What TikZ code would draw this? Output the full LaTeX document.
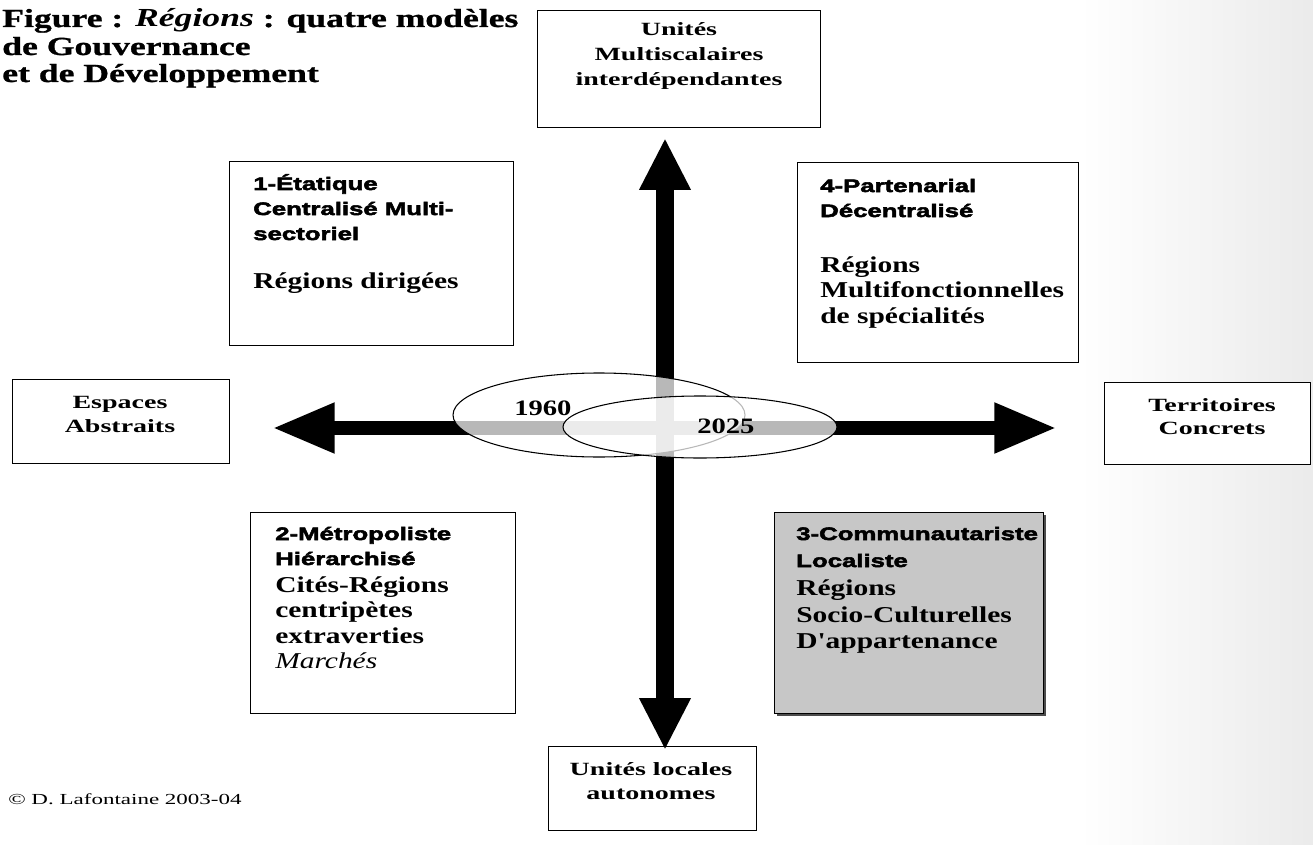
\documentclass[tikz,border=0pt]{standalone}
\usepackage{fontspec}
\setmainfont{Liberation Serif}
\newfontfamily\bodyf{Liberation Serif}[FakeStretch=1.3]
\newfontfamily\heavyf{Liberation Sans}[FakeStretch=1.43,BoldFeatures={FakeBold=3}]
\newfontfamily\titlef{Liberation Serif}[FakeStretch=1.37,BoldFeatures={FakeBold=1}]
\newfontfamily\labelf{Liberation Serif}[FakeStretch=1.5]
\newfontfamily\copyf{Liberation Serif}[FakeStretch=1.5]
\usetikzlibrary{arrows.meta,shapes.geometric,shadows}
\begin{document}
\begin{tikzpicture}[x=0.75pt,y=-0.75pt,
  box/.style={draw, line width=1pt, fill=white, anchor=north west, inner sep=0pt},
  graybox/.style={box, fill=black!22, drop shadow={shadow xshift=1.5pt, shadow yshift=-1.5pt, fill=black!70, opacity=1}},
  heavy/.style={anchor=base west, inner sep=0pt, font=\heavyf\bfseries\fontsize{13.5}{16}\selectfont},
  body/.style={anchor=base west, inner sep=0pt, font=\bodyf\bfseries\fontsize{17}{20}\selectfont},
  bodyit/.style={anchor=base west, inner sep=0pt, font=\bodyf\itshape\fontsize{17}{20}\selectfont},
  ttl/.style={anchor=base west, inner sep=0pt, font=\titlef\bfseries\fontsize{19.5}{23}\selectfont},
  lbl/.style={anchor=base, inner sep=0pt, font=\labelf\bfseries\fontsize{14}{16}\selectfont},
  year/.style={anchor=base west, inner sep=0pt, font=\bodyf\bfseries\fontsize{16.5}{19}\selectfont},
  oval/.style={ellipse, draw, line width=0.8pt, fill=white, fill opacity=0.72, draw opacity=1, inner sep=0pt},
  varrow/.style={line width=13.5pt, {Triangle[length=39pt,width=36pt]}-{Triangle[length=39pt,width=36pt]}},
  harrow/.style={line width=11pt, {Triangle[length=47pt,width=35pt]}-{Triangle[length=47pt,width=35pt]}}
]
\useasboundingbox (0,0) rectangle (1313,845);
\fill[white] (0,0) rectangle (1313,845);
\shade[left color=white, right color=black!8] (1080,0) rectangle (1313,845);

% title
\node[ttl] (t1) at (2,27) {Figure : \textit{Régions} : quatre modèles};
\node[ttl] (t2) at (2,55) {de Gouvernance};
\node[ttl] (t3) at (2,82) {et de Développement};

% axis end boxes
\node[box, minimum width=212.25pt, minimum height=87.75pt] (top) at (537,10) {};
\node[lbl] (top1) at (679,36) {Unités};
\node[lbl] (top2) at (679,61) {Multiscalaires};
\node[lbl] (top3) at (679,86) {interdépendantes};

\node[box, minimum width=156pt, minimum height=63pt] (bot) at (548,746) {};
\node[lbl] (bot1) at (651,775) {Unités locales};
\node[lbl] (bot2) at (651,799) {autonomes};

\node[box, minimum width=162.75pt, minimum height=63pt] (left) at (12,379) {};
\node[lbl] (left1) at (120,408) {Espaces};
\node[lbl] (left2) at (120,432) {Abstraits};

\node[box, minimum width=154.5pt, minimum height=61.5pt] (right) at (1104,382) {};
\node[lbl] (right1) at (1212,411) {Territoires};
\node[lbl] (right2) at (1212,434) {Concrets};

% arrows
\coordinate (vt) at (665,138);
\coordinate (vb) at (665,750);
\coordinate (hl) at (272,428);
\coordinate (hr) at (1057,428);
\draw[varrow] (vt) -- (vb);
\draw[harrow] (hl) -- (hr);

% ellipses
\node[oval, minimum width=219pt, minimum height=63pt] (e1) at (599,415) {};
\node[oval, minimum width=205.5pt, minimum height=46.5pt] (e2) at (700,427) {};
\node[year] (y1) at (514,415) {1960};
\node[year] (y2) at (697,433) {2025};

% quadrant boxes
\node[box, minimum width=213pt, minimum height=138pt] (q1) at (229,161) {};
\node[heavy] (q1a) at (253,190) {1-Étatique};
\node[heavy] (q1b) at (253,215) {Centralisé Multi-};
\node[heavy] (q1c) at (253,240) {sectoriel};
\node[body] (q1d) at (253,288) {Régions dirigées};

\node[box, minimum width=210.75pt, minimum height=150pt] (q4) at (797,162) {};
\node[heavy] (q4a) at (820,192) {4-Partenarial};
\node[heavy] (q4b) at (820,217) {Décentralisé};
\node[body] (q4c) at (820,272) {Régions};
\node[body] (q4d) at (820,297) {Multifonctionnelles};
\node[body] (q4e) at (820,323) {de spécialités};

\node[box, minimum width=198.75pt, minimum height=150.75pt] (q2) at (250,512) {};
\node[heavy] (q2a) at (275,540) {2-Métropoliste};
\node[heavy] (q2b) at (275,565) {Hiérarchisé};
\node[body] (q2c) at (275,592) {Cités-Régions};
\node[body] (q2d) at (275,617) {centripètes};
\node[body] (q2e) at (275,643) {extraverties};
\node[bodyit] (q2f) at (275,668) {Marchés};

\node[graybox, minimum width=201.75pt, minimum height=150.75pt] (q3) at (774,512) {};
\node[heavy] (q3a) at (796,540) {3-Communautariste};
\node[heavy] (q3b) at (796,567) {Localiste};
\node[body] (q3c) at (796,595) {Régions};
\node[body] (q3d) at (796,622) {Socio-Culturelles};
\node[body] (q3e) at (796,648) {D'appartenance};

% copyright
\node[anchor=base west, inner sep=0pt, font=\copyf\fontsize{11.5}{13}\selectfont] (cp) at (8,804) {© D. Lafontaine 2003-04};
\end{tikzpicture}
\end{document}
